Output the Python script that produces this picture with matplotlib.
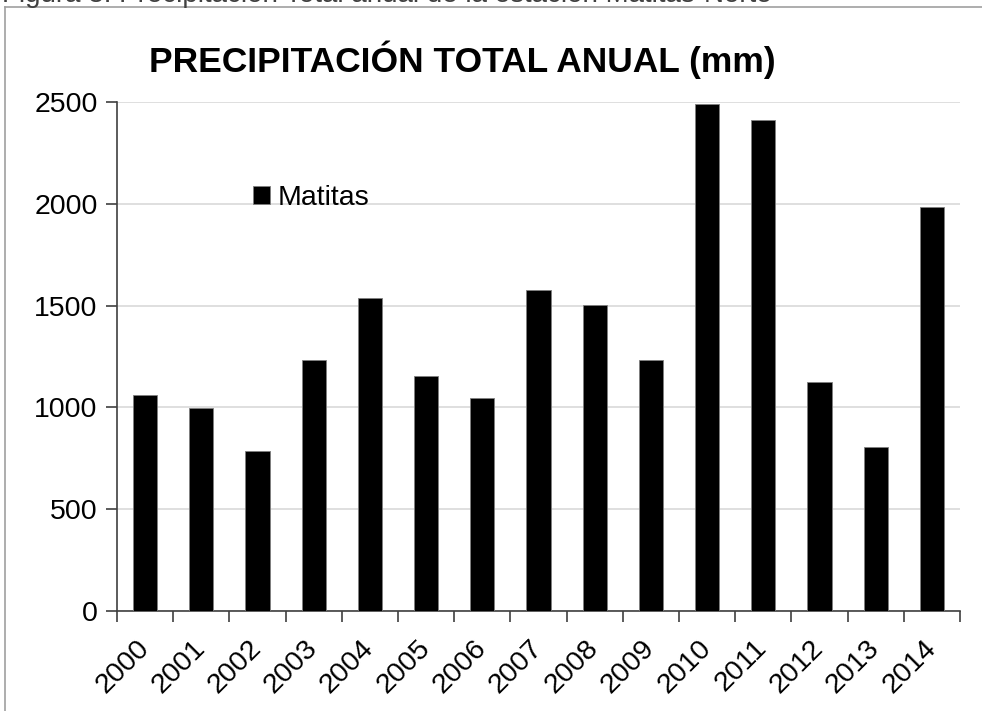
import matplotlib
matplotlib.use("Agg")
import matplotlib.pyplot as plt
from matplotlib.lines import Line2D
import numpy as np

plt.rcParams['font.family'] = ['Liberation Sans', 'DejaVu Sans']

years = ['2000', '2001', '2002', '2003', '2004', '2005', '2006', '2007',
         '2008', '2009', '2010', '2011', '2012', '2013', '2014']
precip_mm = [1062, 997, 784, 1234, 1536, 1152, 1046, 1575,
             1503, 1234, 2490, 2411, 1123, 805, 1983]
series_name = 'Matitas'
y_ticks = [0, 500, 1000, 1500, 2000, 2500]
title = 'PRECIPITACIÓN TOTAL ANUAL (mm)'
caption = 'Figura 3. Precipitación Total anual de la estación Matitas-Norte'

W, H = 982, 711
fig = plt.figure(figsize=(W / 100, H / 100), dpi=100)

def fx(px):
    return px / W

def fy(py):
    return 1 - py / H

# outer chart frame (left and top edges visible)
fig.add_artist(Line2D([fx(5), fx(5)], [fy(7), 0], color='#a0a0a0', lw=1.2,
                      transform=fig.transFigure))
fig.add_artist(Line2D([fx(5), 1], [fy(7), fy(7)], color='#a0a0a0', lw=1.2,
                      transform=fig.transFigure))

# caption running off the top edge
fig.text(fx(2), fy(1.5), caption, fontsize=20, color='#404040',
         ha='left', va='baseline')

FS = 20.5

ax = fig.add_axes([fx(117), fy(611), fx(960) - fx(117), fy(102) - fy(611)])
x = np.arange(len(years))
ax.bar(x, precip_mm, width=0.43, color='black', edgecolor='#7f7f7f',
       linewidth=0.6, label=series_name, zorder=3)

ax.set_xlim(-0.5, len(years) - 0.5)
ax.set_ylim(0, 2500)
ax.set_yticks(y_ticks)
ax.set_yticklabels([str(v) for v in y_ticks], fontsize=FS)
ax.yaxis.grid(True, color='#d9d9d9', lw=1.2, zorder=0)
ax.set_axisbelow(True)

ax.set_xticks(x)
ax.set_xticklabels(years, fontsize=FS, rotation=45, ha='right',
                   va='center', rotation_mode='anchor')
ax.tick_params(axis='x', which='major', length=0, pad=24)
ax.set_xticks(np.arange(-0.5, len(years), 1.0), minor=True)
ax.tick_params(axis='x', which='minor', length=8, width=1.2, color='#404040',
               direction='out')
ax.tick_params(axis='y', length=8, width=1.2, color='#404040', pad=6,
               direction='out')

for side in ('top', 'right'):
    ax.spines[side].set_visible(False)
ax.spines['left'].set_color('#404040')
ax.spines['bottom'].set_color('#404040')
ax.spines['left'].set_linewidth(1.2)
ax.spines['bottom'].set_linewidth(1.2)

fig.text(fx(462), fy(60), title, fontsize=25.5, fontweight='bold',
         ha='center', va='center')

ax.legend(loc='center left', bbox_to_anchor=(fx(253), fy(198)),
          bbox_transform=fig.transFigure, frameon=False, fontsize=FS,
          handlelength=0.6, handleheight=0.6, handletextpad=0.25,
          borderpad=0, borderaxespad=0)

fig.savefig('out.png', dpi=100)
